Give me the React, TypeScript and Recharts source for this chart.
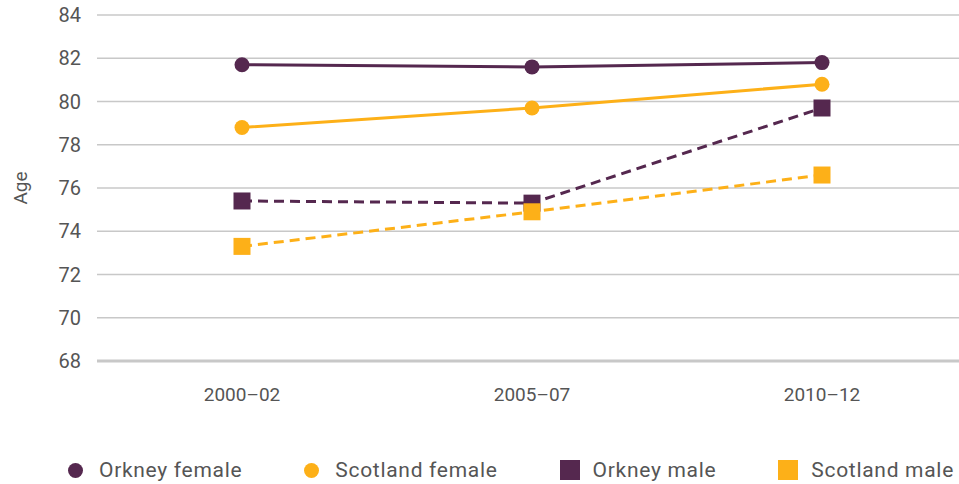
import React from 'react'
import { LineChart, Line, XAxis, YAxis, CartesianGrid, Legend } from 'recharts'

const periods = ['2000–02', '2005–07', '2010–12']
const orkneyFemale = [81.7, 81.6, 81.8]
const scotlandFemale = [78.8, 79.7, 80.8]
const orkneyMale = [75.4, 75.3, 79.7]
const scotlandMale = [73.3, 74.9, 76.6]
const yTicks = [68, 70, 72, 74, 76, 78, 80, 82, 84]

const PURPLE = '#55284f'
const ORANGE = '#fdb018'
const FONT = 'Roboto, "Liberation Sans", sans-serif'

const data = periods.map((p, i) => ({
  period: p,
  orkneyFemale: orkneyFemale[i],
  scotlandFemale: scotlandFemale[i],
  orkneyMale: orkneyMale[i],
  scotlandMale: scotlandMale[i],
}))

const legendItems = [
  { label: 'Orkney female', color: PURPLE, shape: 'circle' },
  { label: 'Scotland female', color: ORANGE, shape: 'circle' },
  { label: 'Orkney male', color: PURPLE, shape: 'square' },
  { label: 'Scotland male', color: ORANGE, shape: 'square' },
]

function SquareDot(props: any) {
  const { cx, cy, fill } = props
  if (cx == null || cy == null) return null
  return <rect x={cx - 8.5} y={cy - 8.5} width={17} height={17} fill={fill} />
}

// rotated axis title, centred on the plot height
function AgeLabel(props: any) {
  const { viewBox } = props
  const cx = 20
  const cy = viewBox.y + viewBox.height / 2
  return (
    <text
      x={cx}
      y={cy}
      transform={`rotate(-90 ${cx} ${cy})`}
      textAnchor="middle"
      dominantBaseline="central"
      fill="#555"
      fontSize={19}
    >
      Age
    </text>
  )
}

function LegendContent() {
  return (
    <div style={{ display: 'flex', alignItems: 'center', gap: 62, paddingLeft: 68, fontFamily: FONT }}>
      {legendItems.map((it) => (
        <div key={it.label} style={{ display: 'flex', alignItems: 'center' }}>
          {it.shape === 'circle' ? (
            <span style={{ width: 15, height: 15, borderRadius: '50%', background: it.color, marginRight: 16 }} />
          ) : (
            <span style={{ width: 20, height: 20, background: it.color, marginRight: 13 }} />
          )}
          <span style={{ fontSize: 21, letterSpacing: 0.7, color: '#555' }}>{it.label}</span>
        </div>
      ))}
    </div>
  )
}

export default function App(): React.ReactElement {
  return (
    <div style={{ width: 959, height: 484, overflow: 'hidden', position: 'relative', background: '#fff' }}>
      <style>{'body{margin:0}'}</style>
      <LineChart
        width={975}
        height={484}
        data={data}
        margin={{ top: 15, right: 8, bottom: 69, left: 0 }}
        style={{ fontFamily: FONT }}
      >
        <CartesianGrid vertical={false} stroke="#c8c8c8" strokeWidth={1.5} />
        <XAxis
          dataKey="period"
          axisLine={{ stroke: '#c8c8c8', strokeWidth: 3 }}
          tickLine={false}
          tick={{ fill: '#555', fontSize: 19 }}
          padding={{ left: 145, right: 145 }}
          dy={19}
        />
        <YAxis
          domain={[68, 84]}
          ticks={yTicks}
          axisLine={false}
          tickLine={false}
          tick={{ fill: '#555', fontSize: 20 }}
          width={97}
          dx={-8}
          label={<AgeLabel />}
        />
        <Legend verticalAlign="bottom" align="left" content={<LegendContent />} wrapperStyle={{ left: 0, bottom: 2 }} />
        <Line
          dataKey="orkneyFemale"
          stroke={PURPLE}
          strokeWidth={3}
          dot={{ r: 7.5, fill: PURPLE, stroke: 'none' }}
          isAnimationActive={false}
        />
        <Line
          dataKey="scotlandFemale"
          stroke={ORANGE}
          strokeWidth={3}
          dot={{ r: 7.5, fill: ORANGE, stroke: 'none' }}
          isAnimationActive={false}
        />
        <Line
          dataKey="orkneyMale"
          stroke={PURPLE}
          strokeWidth={3}
          strokeDasharray="10 6"
          dot={<SquareDot fill={PURPLE} />}
          isAnimationActive={false}
        />
        <Line
          dataKey="scotlandMale"
          stroke={ORANGE}
          strokeWidth={3}
          strokeDasharray="10 6"
          dot={<SquareDot fill={ORANGE} />}
          isAnimationActive={false}
        />
      </LineChart>
    </div>
  )
}
